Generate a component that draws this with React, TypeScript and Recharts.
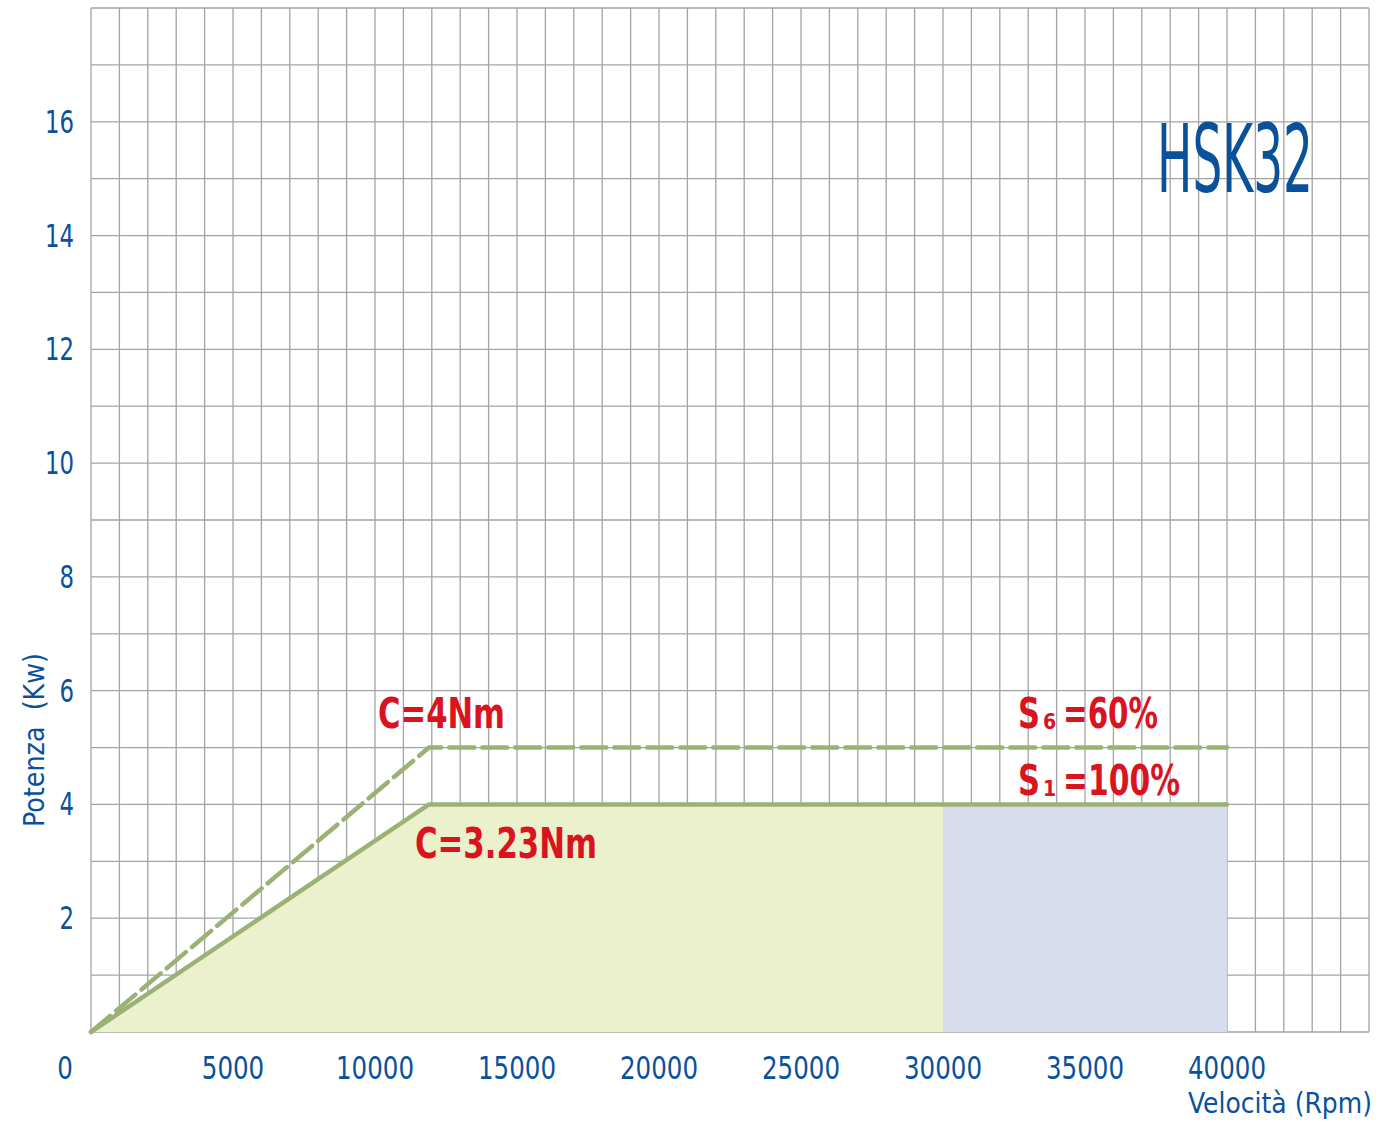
import { ComposedChart, Area, Line, XAxis, YAxis, CartesianGrid, ReferenceDot } from 'recharts';

// motor curve, HSK32 spindle: rpm vs kW
const rpm = [0, 11900, 30000, 40000];
const s1Power = [0, 4, 4, 4];
const s6Power = [0, 5, 5, 5];
const s1Band = [0, 4, 4, null];
const highBand = [null, null, 4, 4];

const xLabels = [0, 5000, 10000, 15000, 20000, 25000, 30000, 35000, 40000];
const yLabels = [2, 4, 6, 8, 10, 12, 14, 16];

const gridX = Array.from({ length: 46 }, (_, i) => i * 1000);
const gridY = Array.from({ length: 19 }, (_, i) => i);

const data = rpm.map((r, i) => ({
  rpm: r,
  s1: s1Power[i],
  s6: s6Power[i],
  band: s1Band[i],
  high: highBand[i],
}));

const BLUE = '#0a519b';
const RED = '#d9141e';
const GREEN = '#9bb274';
const FONT = '"Liberation Sans Narrow", "DejaVu Sans Condensed", Roboto, sans-serif';

// squeezed text: scaleX keeps the real box close to the drawn width
function Squeezed({ x, y, w, sx, children, ...rest }: any) {
  return (
    <text
      transform={`translate(${x}, ${y}) scale(${sx}, 1)`}
      textLength={w / sx}
      lengthAdjust="spacingAndGlyphs"
      fontFamily={FONT}
      {...rest}
    >
      {children}
    </text>
  );
}

function XTick({ x, y, payload }: any) {
  const v = payload.value;
  if (!xLabels.includes(v)) return null;
  const s = String(v);
  return (
    <text
      x={v === 0 ? x - 26 : x}
      y={y + 39}
      textAnchor="middle"
      fill={BLUE}
      fontSize={32}
      fontFamily={FONT}
      textLength={s.length * 15.6}
      lengthAdjust="spacingAndGlyphs"
    >
      {s}
    </text>
  );
}

function YTick({ x, y, payload }: any) {
  const v = payload.value;
  if (!yLabels.includes(v)) return null;
  const s = String(v);
  return (
    <text
      x={x - 9}
      y={y + 11}
      textAnchor="end"
      fill={BLUE}
      fontSize={32}
      fontFamily={FONT}
      textLength={s.length * 14.5}
      lengthAdjust="spacingAndGlyphs"
    >
      {s}
    </text>
  );
}

function note(text: string, width: number) {
  return (p: any) => (
    <Squeezed x={p.cx} y={p.cy} w={width} sx={0.85} fill={RED} fontSize={42} fontWeight="bold">
      {text}
    </Squeezed>
  );
}

// S with subscript, then the duty text
function duty(sub: string, rest: string, restWidth: number) {
  return (p: any) => (
    <g fill={RED} fontWeight="bold">
      <Squeezed x={p.cx} y={p.cy} w={22} sx={0.8} fontSize={42}>
        S
      </Squeezed>
      <text x={p.cx + 25} y={p.cy + 1} fontSize={21} fontFamily={FONT}>
        {sub}
      </text>
      <Squeezed x={p.cx + 45} y={p.cy} w={restWidth} sx={0.85} fontSize={42}>
        {rest}
      </Squeezed>
    </g>
  );
}

export default function App() {
  return (
    <div style={{ position: 'absolute', left: 0, top: 0, width: 1391, height: 1126, background: '#fff' }}>
      <ComposedChart
        width={1391}
        height={1126}
        data={data}
        margin={{ top: 8, right: 22, left: 0, bottom: 0 }}
      >
        <XAxis
          type="number"
          dataKey="rpm"
          domain={[0, 45000]}
          ticks={gridX}
          interval={0}
          height={94}
          axisLine={false}
          tickLine={false}
          tick={<XTick />}
          label={{
            content: () => (
              <text
                x={1188}
                y={1113}
                fill={BLUE}
                fontSize={29}
                fontFamily={FONT}
                textLength={184}
                lengthAdjust="spacingAndGlyphs"
              >
                Velocità (Rpm)
              </text>
            ),
          }}
        />
        <YAxis
          type="number"
          domain={[0, 18]}
          ticks={gridY}
          interval={0}
          width={91}
          axisLine={false}
          tickLine={false}
          tick={<YTick />}
          label={{
            content: () => (
              <text
                transform="translate(44, 740) rotate(-90)"
                textAnchor="middle"
                fill={BLUE}
                fontSize={29}
                fontFamily={FONT}
                textLength={174}
                lengthAdjust="spacingAndGlyphs"
              >
                {'Potenza\u00a0 (Kw)'}
              </text>
            ),
          }}
        />
        <Area
          type="linear"
          dataKey="band"
          stroke="none"
          fill="#ebf1cc"
          fillOpacity={1}
          isAnimationActive={false}
        />
        <Area
          type="linear"
          dataKey="high"
          stroke="none"
          fill="#d6dceb"
          fillOpacity={1}
          isAnimationActive={false}
        />
        <CartesianGrid stroke="#a3a3a3" strokeWidth={1.3} />
        <Line
          type="linear"
          dataKey="s6"
          stroke={GREEN}
          strokeWidth={4.5}
          strokeDasharray="25 8"
          strokeLinecap="round"
          dot={false}
          isAnimationActive={false}
        />
        <Line
          type="linear"
          dataKey="s1"
          stroke={GREEN}
          strokeWidth={4.5}
          strokeLinecap="round"
          dot={false}
          isAnimationActive={false}
        />
        <ReferenceDot x={10106} y={5.35} r={0} shape={note('C=4Nm', 127)} />
        <ReferenceDot x={11408} y={3.06} r={0} shape={note('C=3.23Nm', 182)} />
        <ReferenceDot x={32641} y={5.35} r={0} shape={duty('6', '=60%', 95)} />
        <ReferenceDot x={32641} y={4.17} r={0} shape={duty('1', '=100%', 117)} />
        <ReferenceDot
          x={37535}
          y={14.77}
          r={0}
          shape={(p: any) => (
            <Squeezed x={p.cx} y={p.cy} w={156} sx={0.6} fill={BLUE} fontSize={94}>
              HSK32
            </Squeezed>
          )}
        />
      </ComposedChart>
    </div>
  );
}
